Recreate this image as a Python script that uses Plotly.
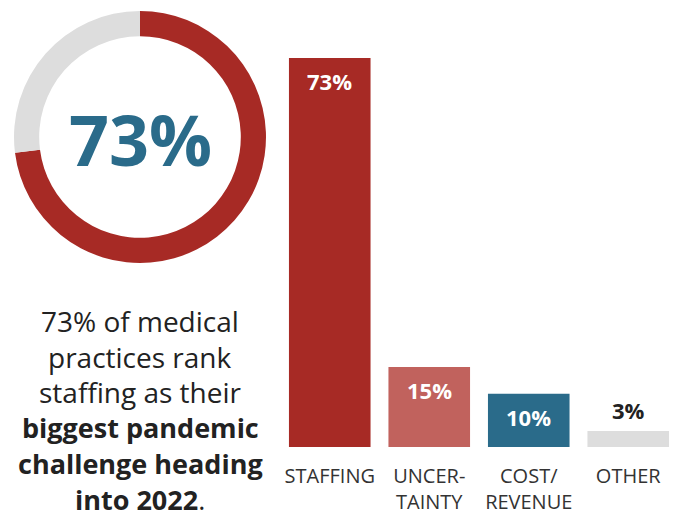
import plotly.graph_objects as go

# Survey results: top pandemic challenge for medical practices heading into 2022
categories = ["STAFFING", "UNCERTAINTY", "COST/REVENUE", "OTHER"]
tick_labels = ["STAFFING", "UNCER-<br>TAINTY", "COST/<br>REVENUE", "OTHER"]
shares = [73, 15, 10, 3]
bar_colors = ["#A72A25", "#C1625D", "#2A6B8A", "#DDDDDD"]
label_colors = ["#FFFFFF", "#FFFFFF", "#FFFFFF", "#222222"]

# Headline donut: staffing share vs the rest
donut_values = [73, 27]
donut_colors = ["#A72A25", "#DDDDDD"]

# Caption lines under the donut (text, font size)
caption_lines = [
    ("73% of medical", 28),
    ("practices rank", 28),
    ("staffing as their", 28),
    ("<b>biggest pandemic</b>", 27),
    ("<b>challenge heading</b>", 27),
    ("<b>into 2022</b>.", 27),
]

W, H = 678, 519
FONT = "Open Sans"


def px_x(p):
    return p / W


def px_y(p):
    return (H - p) / H


fig = go.Figure()

fig.add_trace(go.Pie(
    values=donut_values,
    marker=dict(colors=donut_colors, line=dict(width=0)),
    hole=0.80,
    sort=False,
    direction="clockwise",
    rotation=0,
    textinfo="none",
    hoverinfo="skip",
    showlegend=False,
    domain=dict(x=[px_x(14), px_x(266)], y=[px_y(263), px_y(11)]),
))

fig.add_trace(go.Bar(
    x=categories,
    y=shares,
    marker=dict(color=bar_colors, line=dict(width=0)),
    width=0.82,
    hoverinfo="skip",
    showlegend=False,
))

# Value labels: inside the bar top, or just above it for the small "other" bar
for cat, val, col in zip(categories, shares, label_colors):
    inside = col == "#FFFFFF"
    fig.add_annotation(
        x=cat, y=val, xref="x", yref="y",
        text=f"<b>{val}%</b>",
        showarrow=False,
        yanchor="top" if inside else "bottom",
        yshift=-6 if inside else 4,
        font=dict(family=FONT, size=22, color=col),
    )

# Big number in the donut hole
fig.add_annotation(
    x=px_x(140), y=px_y(139), xref="paper", yref="paper",
    text="<b>73%</b>", showarrow=False,
    xanchor="center", yanchor="middle",
    font=dict(family=FONT, size=70, color="#2A6B8A"),
)

# Explanatory caption, one annotation per line for even spacing
line_top, line_step = 321, 35.6
for i, (line, size) in enumerate(caption_lines):
    fig.add_annotation(
        x=px_x(140), y=px_y(line_top + i * line_step),
        xref="paper", yref="paper",
        text=line, showarrow=False,
        xanchor="center", yanchor="middle",
        font=dict(family=FONT, size=size, color="#222222"),
    )

fig.update_layout(
    width=W, height=H,
    margin=dict(l=0, r=0, t=0, b=0),
    paper_bgcolor="white",
    plot_bgcolor="white",
    bargap=0.18,
    xaxis=dict(
        domain=[px_x(280), 1.0],
        range=[-0.5, 3.5],
        tickmode="array",
        tickvals=categories,
        ticktext=tick_labels,
        tickfont=dict(family=FONT, size=20, color="#333333"),
        showgrid=False, zeroline=False, showline=False,
        ticks="", ticklabelstandoff=15,
    ),
    yaxis=dict(
        domain=[px_y(447), px_y(20.7)],
        range=[0, 80],
        visible=False,
    ),
)

fig.write_html("out.html")
